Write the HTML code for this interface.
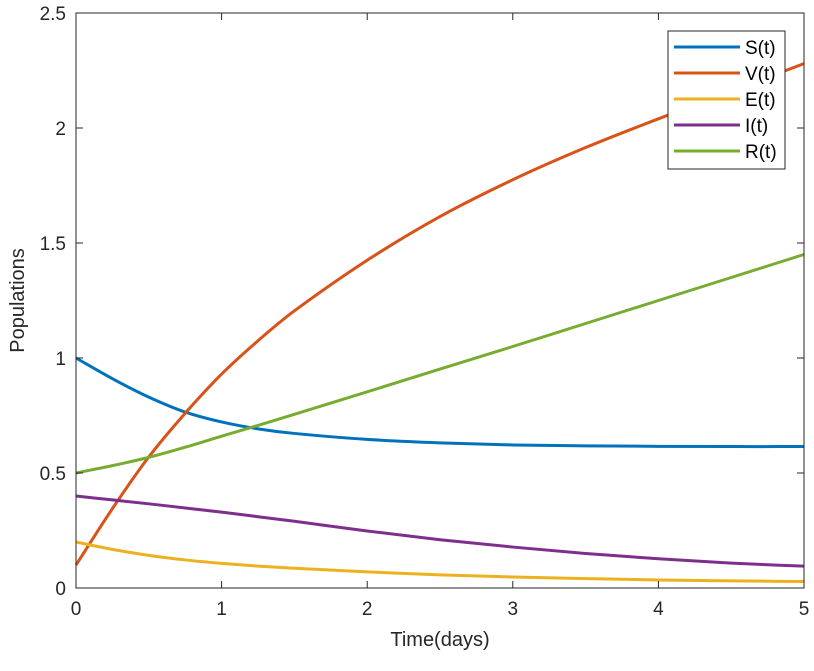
<!DOCTYPE html>
<html><head><meta charset="utf-8"><style>
body{margin:0;background:#fff;}
svg text{font-family:"Liberation Sans",Arial,sans-serif;}
</style></head><body>
<svg id="chart" width="814" height="666" xmlns="http://www.w3.org/2000/svg"></svg>
<script>
const tVals=[0,0.25,0.5,0.75,1,1.25,1.5,2,2.5,3,3.5,4,4.5,5];
const sVals=[1.0,0.91,0.83,0.765,0.722,0.692,0.672,0.646,0.631,0.622,0.618,0.616,0.615,0.615];
const vVals=[0.1,0.345,0.57,0.76,0.93,1.075,1.205,1.425,1.615,1.775,1.915,2.04,2.16,2.28];
const eVals=[0.2,0.168,0.142,0.122,0.107,0.095,0.086,0.07,0.057,0.048,0.041,0.035,0.031,0.028];
const iVals=[0.4,0.383,0.366,0.348,0.33,0.31,0.29,0.248,0.21,0.178,0.15,0.127,0.108,0.095];
const rVals=[0.5,0.532,0.568,0.612,0.66,0.707,0.755,0.853,0.952,1.05,1.15,1.25,1.35,1.45];
const seriesNames=["S(t)","V(t)","E(t)","I(t)","R(t)"];
const xTicks=[0,1,2,3,4,5];
const yTicks=[0,0.5,1,1.5,2,2.5];
const yTickLabels=["0","0.5","1","1.5","2","2.5"];
const colors=["#0072BD","#D95319","#EDB120","#7E2F8E","#77AC30"];
const X0=76,X1=804,Y0=588,Y1=13;
const xs=t=>X0+(X1-X0)*t/5, ys=v=>Y0-(Y0-Y1)*v/2.5;
const svg=document.getElementById('chart');const NS="http://www.w3.org/2000/svg";
function mk(tag,a,p){const e=document.createElementNS(NS,tag);for(const k in a)e.setAttribute(k,a[k]);(p||svg).appendChild(e);return e;}
function curve(vals){const p=tVals.map((t,i)=>[xs(t),ys(vals[i])]);let d=`M${p[0][0]},${p[0][1]}`;
for(let i=0;i<p.length-1;i++){const b=p[i],c=p[i+1];const a=i>0?p[i-1]:[2*b[0]-c[0],2*b[1]-c[1]];const e=i+2<p.length?p[i+2]:[2*c[0]-b[0],2*c[1]-b[1]];
const h=c[0]-b[0];const m1=(c[1]-a[1])/(c[0]-a[0]),m2=(e[1]-b[1])/(e[0]-b[0]);
d+=` C${b[0]+h/3},${b[1]+m1*h/3} ${c[0]-h/3},${c[1]-m2*h/3} ${c[0]},${c[1]}`;}return d;}
const all=[sVals,vVals,eVals,iVals,rVals];
all.forEach((vals,k)=>{const l=mk('path',{d:curve(vals),fill:'none',stroke:colors[k],'stroke-width':3});

});
const box=mk('rect',{x:X0,y:Y1,width:X1-X0,height:Y0-Y1,fill:'none',stroke:'#262626','stroke-width':1});

xTicks.forEach(t=>{mk('line',{x1:xs(t),x2:xs(t),y1:Y0,y2:Y0-7,stroke:'#262626'});mk('line',{x1:xs(t),x2:xs(t),y1:Y1,y2:Y1+7,stroke:'#262626'});
const tx=mk('text',{x:xs(t),y:Y0+27,'text-anchor':'middle','font-size':19,fill:'#262626'});tx.textContent=t;
});
yTicks.forEach((v,i)=>{mk('line',{x1:X0,x2:X0+7,y1:ys(v),y2:ys(v),stroke:'#262626'});mk('line',{x1:X1,x2:X1-7,y1:ys(v),y2:ys(v),stroke:'#262626'});
const tx=mk('text',{x:X0-10,y:ys(v)+7,'text-anchor':'end','font-size':19,fill:'#262626'});tx.textContent=yTickLabels[i];
});
const xt=mk('text',{x:(X0+X1)/2,y:Y0+58,'text-anchor':'middle','font-size':20,fill:'#262626'});xt.textContent='Time(days)';

const yt=mk('text',{x:0,y:0,transform:`translate(24,${(Y0+Y1)/2}) rotate(-90)`,'text-anchor':'middle','font-size':20,fill:'#262626'});yt.textContent='Populations';

const lg=mk('g',{});
mk('rect',{x:668,y:31,width:117,height:138,fill:'#fff',stroke:'#262626'},lg);
seriesNames.forEach((n,k)=>{const y=47+k*26;mk('line',{x1:674,x2:740,y1:y,y2:y,stroke:colors[k],'stroke-width':3},lg);
const tx=mk('text',{x:745,y:y+7,'font-size':19,fill:'#000'},lg);tx.textContent=n;
});
</script>
</body></html>
